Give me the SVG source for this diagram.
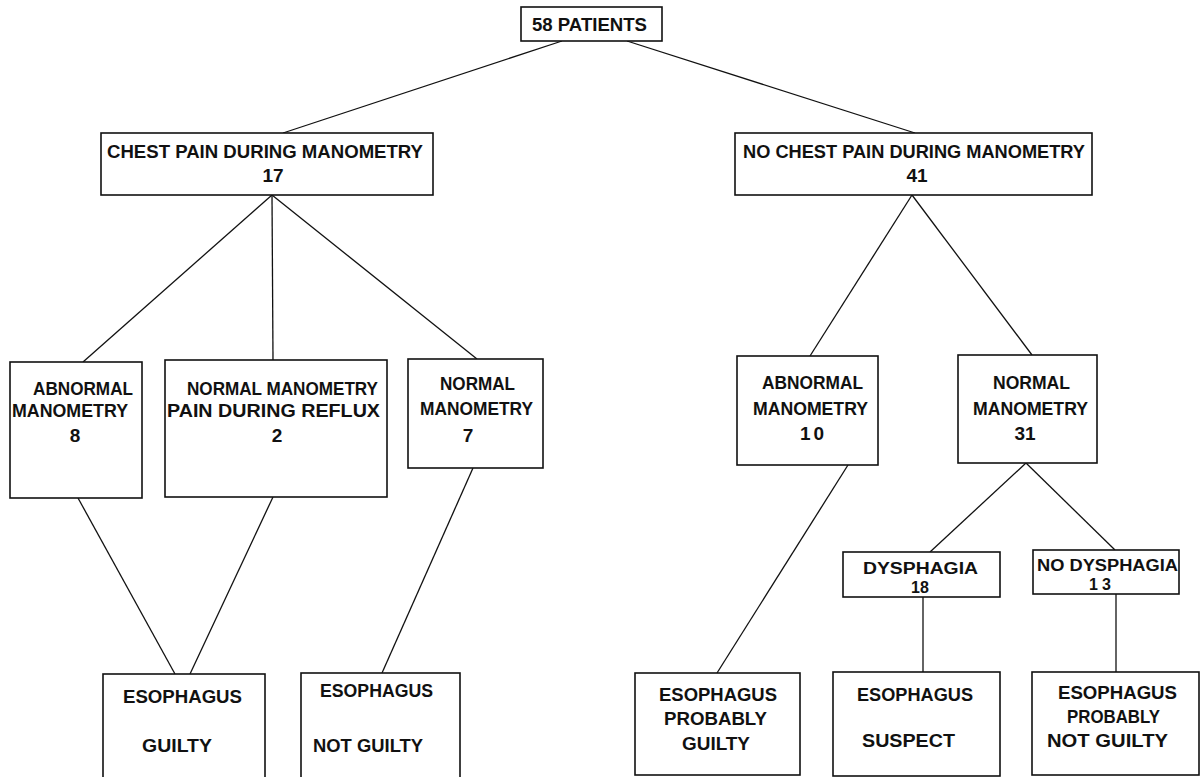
<svg xmlns="http://www.w3.org/2000/svg" width="1202" height="777" viewBox="0 0 1202 777">
<style>
rect{fill:#fff;stroke:#111;stroke-width:1.6}
text{font-family:"Liberation Sans",Arial,sans-serif;font-weight:bold;font-size:19px;fill:#111}
.c line{stroke:#111;stroke-width:1.3}
.s{font-size:16px}
</style>
<rect x="0" y="0" width="1202" height="777" style="stroke:none"/>
<g class="c" id="connectors">
<line x1="562" y1="41" x2="283" y2="133"/>
<line x1="627" y1="41" x2="915" y2="133"/>
<line x1="272" y1="195" x2="83" y2="362"/>
<line x1="272" y1="195" x2="273" y2="360"/>
<line x1="272" y1="195" x2="477" y2="359"/>
<line x1="912" y1="195" x2="810" y2="356"/>
<line x1="912" y1="195" x2="1032" y2="355"/>
<line x1="1026" y1="463" x2="930" y2="552"/>
<line x1="1026" y1="463" x2="1115" y2="550"/>
<line x1="78" y1="498" x2="175" y2="674"/>
<line x1="273" y1="497" x2="190" y2="674"/>
<line x1="473" y1="468" x2="382" y2="673"/>
<line x1="848" y1="465" x2="717" y2="673"/>
<line x1="923" y1="597" x2="923" y2="672"/>
<line x1="1116" y1="594" x2="1116" y2="672"/>
</g>
<g id="n58">
<rect x="521" y="7" width="141" height="34"/>
<text x="532" y="31" textLength="115" lengthAdjust="spacingAndGlyphs">58 PATIENTS</text>
</g>
<g id="chest">
<rect x="101" y="133" width="332" height="62"/>
<text x="107" y="158" textLength="316" lengthAdjust="spacingAndGlyphs">CHEST PAIN DURING MANOMETRY</text>
<text x="273" y="182" text-anchor="middle">17</text>
</g>
<g id="nochest">
<rect x="735" y="133" width="357" height="62"/>
<text x="743" y="158" textLength="342" lengthAdjust="spacingAndGlyphs">NO CHEST PAIN DURING MANOMETRY</text>
<text x="917" y="182" text-anchor="middle">41</text>
</g>
<g id="abn8">
<rect x="10" y="362" width="132" height="136"/>
<text x="33" y="395" textLength="100" lengthAdjust="spacingAndGlyphs">ABNORMAL</text>
<text x="12" y="417" textLength="116" lengthAdjust="spacingAndGlyphs">MANOMETRY</text>
<text x="75" y="442" text-anchor="middle">8</text>
</g>
<g id="nmr2">
<rect x="165" y="360" width="222" height="137"/>
<text x="187" y="395" textLength="191" lengthAdjust="spacingAndGlyphs">NORMAL MANOMETRY</text>
<text x="167" y="417" textLength="213" lengthAdjust="spacingAndGlyphs">PAIN DURING REFLUX</text>
<text x="277" y="442" text-anchor="middle">2</text>
</g>
<g id="nm7">
<rect x="408" y="359" width="135" height="109"/>
<text x="440" y="390" textLength="75" lengthAdjust="spacingAndGlyphs">NORMAL</text>
<text x="420" y="415" textLength="113" lengthAdjust="spacingAndGlyphs">MANOMETRY</text>
<text x="468" y="442" text-anchor="middle">7</text>
</g>
<g id="abn10">
<rect x="737" y="356" width="141" height="109"/>
<text x="762" y="389" textLength="101" lengthAdjust="spacingAndGlyphs">ABNORMAL</text>
<text x="753" y="415" textLength="115" lengthAdjust="spacingAndGlyphs">MANOMETRY</text>
<text x="800" y="440" textLength="24" lengthAdjust="spacing">10</text>
</g>
<g id="nm31">
<rect x="958" y="355" width="139" height="108"/>
<text x="993" y="389" textLength="77" lengthAdjust="spacingAndGlyphs">NORMAL</text>
<text x="973" y="415" textLength="115" lengthAdjust="spacingAndGlyphs">MANOMETRY</text>
<text x="1025" y="440" text-anchor="middle">31</text>
</g>
<g id="dys18">
<rect x="843" y="552" width="157" height="45"/>
<text class="s" x="863" y="574" textLength="115" lengthAdjust="spacingAndGlyphs">DYSPHAGIA</text>
<text class="s" x="920" y="593" text-anchor="middle">18</text>
</g>
<g id="nodys13">
<rect x="1033" y="550" width="146" height="44"/>
<text class="s" x="1037" y="571" textLength="141" lengthAdjust="spacingAndGlyphs">NO DYSPHAGIA</text>
<text class="s" x="1089" y="590" textLength="22" lengthAdjust="spacing">13</text>
</g>
<g id="guilty">
<rect x="103" y="674" width="162" height="110"/>
<text x="123" y="703" textLength="119" lengthAdjust="spacingAndGlyphs">ESOPHAGUS</text>
<text x="142" y="752" textLength="70" lengthAdjust="spacingAndGlyphs">GUILTY</text>
</g>
<g id="notguilty">
<rect x="301" y="673" width="159" height="110"/>
<text x="320" y="697" textLength="113" lengthAdjust="spacingAndGlyphs">ESOPHAGUS</text>
<text x="313" y="752" textLength="110" lengthAdjust="spacingAndGlyphs">NOT GUILTY</text>
</g>
<g id="probguilty">
<rect x="635" y="673" width="165" height="102"/>
<text x="659" y="701" textLength="118" lengthAdjust="spacingAndGlyphs">ESOPHAGUS</text>
<text x="664" y="725" textLength="103" lengthAdjust="spacingAndGlyphs">PROBABLY</text>
<text x="682" y="750" textLength="68" lengthAdjust="spacingAndGlyphs">GUILTY</text>
</g>
<g id="suspect">
<rect x="833" y="672" width="167" height="104"/>
<text x="857" y="701" textLength="116" lengthAdjust="spacingAndGlyphs">ESOPHAGUS</text>
<text x="862" y="747" textLength="93" lengthAdjust="spacingAndGlyphs">SUSPECT</text>
</g>
<g id="probnotguilty">
<rect x="1032" y="672" width="167" height="103"/>
<text x="1058" y="699" textLength="119" lengthAdjust="spacingAndGlyphs">ESOPHAGUS</text>
<text x="1067" y="723" textLength="93" lengthAdjust="spacingAndGlyphs">PROBABLY</text>
<text x="1047" y="747" textLength="121" lengthAdjust="spacingAndGlyphs">NOT GUILTY</text>
</g>
</svg>
